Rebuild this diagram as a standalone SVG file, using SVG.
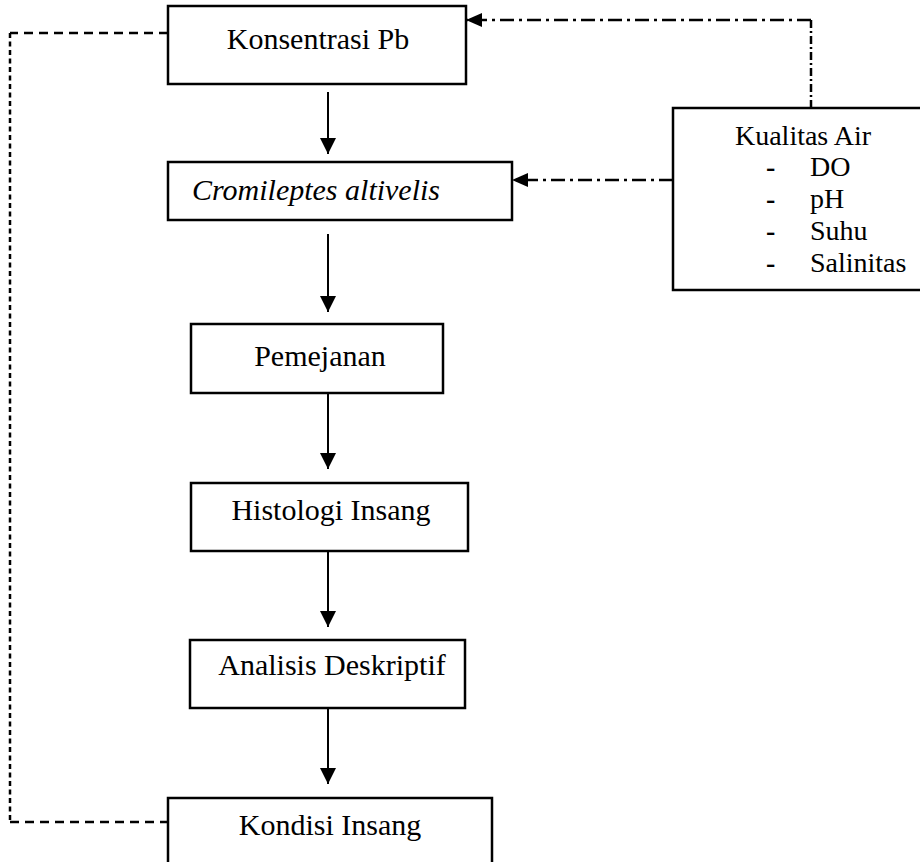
<svg xmlns="http://www.w3.org/2000/svg" width="920" height="862" viewBox="0 0 920 862">
<style>
  .box { fill: #fff; stroke: #000; stroke-width: 2.5; }
  .t { font-family: "Liberation Serif", "Times New Roman", serif; font-size: 30px; fill: #000; }
  .ti { font-style: italic; }
  .k { font-size: 28px; }
  .b { font-weight: bold; }
  .solid { stroke: #000; stroke-width: 2; fill: none; }
  .dh { stroke: #000; stroke-width: 2.5; fill: none; stroke-dasharray: 9 6; }
  .dv { stroke: #000; stroke-width: 2.5; fill: none; stroke-dasharray: 5 3.5; }
  .ddh { stroke: #000; stroke-width: 2.5; fill: none; stroke-dasharray: 14 5 3 5; }
  .ddv { stroke: #000; stroke-width: 2.5; fill: none; stroke-dasharray: 8 3 2 3; }
</style>
<defs>
  <marker id="ah" viewBox="0 0 16 16" refX="16" refY="8" markerWidth="16" markerHeight="16" orient="auto" markerUnits="userSpaceOnUse">
    <path d="M0,0 L16,8 L0,16 z" fill="#000"/>
  </marker>
  <marker id="ah2" viewBox="0 0 16 14" refX="16" refY="7" markerWidth="16" markerHeight="14" orient="auto" markerUnits="userSpaceOnUse">
    <path d="M0,0 L16,7 L0,14 z" fill="#000"/>
  </marker>
</defs>

<g id="connectors">
  <line class="solid" x1="328" y1="92" x2="328" y2="154" marker-end="url(#ah)"/>
  <line class="solid" x1="328" y1="234" x2="328" y2="312" marker-end="url(#ah)"/>
  <line class="solid" x1="328" y1="393" x2="328" y2="469" marker-end="url(#ah)"/>
  <line class="solid" x1="328" y1="551" x2="328" y2="627" marker-end="url(#ah)"/>
  <line class="solid" x1="328" y1="708" x2="328" y2="784" marker-end="url(#ah)"/>
  <line class="dh" x1="168" y1="33" x2="10" y2="33"/>
  <line class="dv" x1="10" y1="33" x2="10" y2="822"/>
  <line class="dh" x1="10" y1="822" x2="168" y2="822"/>
  <line class="ddv" x1="811" y1="108" x2="811" y2="20"/>
  <line class="ddh" x1="811" y1="20" x2="466" y2="20" marker-end="url(#ah2)"/>
  <line class="ddh" x1="673" y1="180" x2="512" y2="180" marker-end="url(#ah2)"/>
</g>

<g id="node-konsentrasi">
  <rect class="box" x="168" y="6" width="298" height="78"/>
  <text class="t" x="318" y="49" text-anchor="middle">Konsentrasi Pb</text>
</g>

<g id="node-cromileptes">
  <rect class="box" x="168" y="162" width="344" height="58"/>
  <text class="t ti" x="192" y="200">Cromileptes altivelis</text>
</g>

<g id="node-kualitas">
  <rect class="box" x="673" y="108" width="260" height="182"/>
  <text class="t k" x="803" y="145" text-anchor="middle">Kualitas Air</text>
  <text class="t k b" x="766" y="176">-</text>
  <text class="t k" x="810" y="176">DO</text>
  <text class="t k b" x="766" y="208">-</text>
  <text class="t k" x="810" y="208">pH</text>
  <text class="t k b" x="766" y="240">-</text>
  <text class="t k" x="810" y="240">Suhu</text>
  <text class="t k b" x="766" y="272">-</text>
  <text class="t k" x="810" y="272">Salinitas</text>
</g>

<g id="node-pemejanan">
  <rect class="box" x="191" y="324" width="252" height="69"/>
  <text class="t" x="320" y="366" text-anchor="middle">Pemejanan</text>
</g>

<g id="node-histologi">
  <rect class="box" x="191" y="483" width="277" height="68"/>
  <text class="t" x="331" y="520" text-anchor="middle">Histologi Insang</text>
</g>

<g id="node-analisis">
  <rect class="box" x="190" y="640" width="275" height="68"/>
  <text class="t" x="332" y="675" text-anchor="middle">Analisis Deskriptif</text>
</g>

<g id="node-kondisi">
  <rect class="box" x="168" y="798" width="324" height="80"/>
  <text class="t" x="330" y="835" text-anchor="middle">Kondisi Insang</text>
</g>
</svg>
